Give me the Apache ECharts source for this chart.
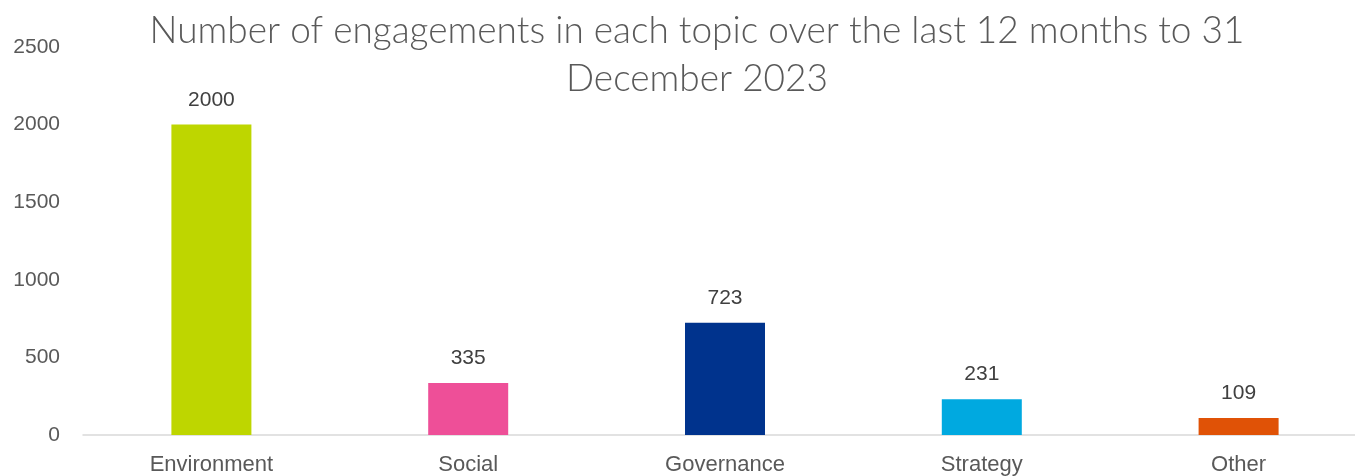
<!DOCTYPE html>
<html>
<head>
<meta charset="utf-8">
<script src="https://cdn.jsdelivr.net/npm/echarts@6/dist/echarts.min.js"></script>
<style>
  html, body { margin: 0; padding: 0; background: #fff; overflow: hidden; }
  #chart { width: 1367px; height: 476px; }
</style>
</head>
<body>
<div id="chart"></div>
<script>
  // data
  var topics = ['Environment', 'Social', 'Governance', 'Strategy', 'Other'];
  var engagements = [2000, 335, 723, 231, 109];
  var yTicks = [0, 500, 1000, 1500, 2000, 2500];

  var palette = ['#BED600', '#EE4F98', '#00338D', '#00A9E0', '#E05206'];

  // plot area runs a little past the right edge of the page, like the original
  var chart = echarts.init(document.getElementById('chart'));
  var option = {
    animation: false,
    title: {
      text: 'Number of engagements in each topic over the last 12 months to 31\nDecember 2023',
      left: 692,
      top: 2,
      textAlign: 'center',
      textStyle: {
        fontFamily: 'Lato',
        fontWeight: 300,
        fontSize: 37,
        lineHeight: 48,
        color: '#595959'
      }
    },
    grid: { left: 83, right: 0, top: 47, bottom: 41, outerBoundsMode: 'none' },
    xAxis: {
      type: 'category',
      data: topics,
      axisLine: { lineStyle: { color: '#D9D9D9', width: 1.5 } },
      axisTick: { show: false },
      axisLabel: {
        fontFamily: 'Liberation Sans',
        fontSize: 22,
        color: '#595959',
        margin: 19
      }
    },
    yAxis: {
      type: 'value',
      min: yTicks[0],
      max: yTicks[yTicks.length - 1],
      interval: 500,
      splitLine: { show: false },
      axisLine: { show: false },
      axisLabel: {
        fontFamily: 'Liberation Sans',
        fontSize: 21,
        color: '#595959',
        margin: 23,
        formatter: function (v) { return String(v); }
      }
    },
    series: [{
      type: 'bar',
      barWidth: 80,
      data: engagements.map(function (v, i) {
        return { value: v, itemStyle: { color: palette[i] } };
      }),
      label: {
        show: true,
        position: 'top',
        distance: 14,
        fontFamily: 'Liberation Sans',
        fontSize: 21,
        color: '#404040'
      }
    }]
  };
  chart.setOption(option);
</script>
</body>
</html>
